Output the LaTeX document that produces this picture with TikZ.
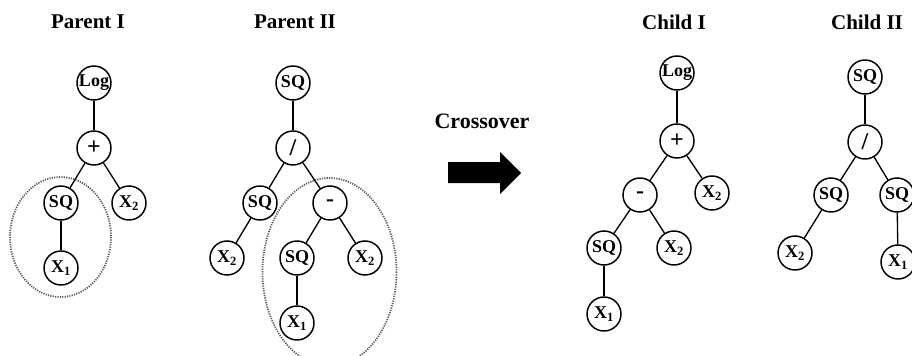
\documentclass[tikz,border=0pt]{standalone}
\usepackage{fontspec}
\setmainfont{Liberation Serif}
\begin{document}
\begin{tikzpicture}[x=0.75pt,y=-0.75pt,line width=1pt]
\tikzset{op/.style = {circle,draw,line width=1.1pt,minimum size=25.5pt,inner sep=0pt,font=\fontsize{13.5}{15}\selectfont\bfseries},
sym/.style = {op,font=\fontsize{18}{18}\selectfont\bfseries},
ttl/.style = {font=\fontsize{15.75}{18}\selectfont\bfseries},
cut/.style = {draw=black!65,line width=1.3pt,dash pattern=on 0.9pt off 0.9pt}}
\useasboundingbox (0,0) rectangle (912,356);
% Parent I
\node[ttl] (t1) at (88,22) {Parent I};
\node[op](a1) at (94,83) {Log}; \node[sym](a2) at (94,148) {+};
\node[op](a3) at (61,203) {SQ}; \node[op](a4) at (129,203) {X\textsubscript{2}};
\node[op](a5) at (61,268) {X\textsubscript{1}};
\draw (a1) -- (a2); \draw (a2) -- (a3); \draw (a2) -- (a4); \draw (a3) -- (a5);
\draw[cut] (60.5,237) ellipse [x radius=50.5, y radius=60];
% Parent II
\node[ttl] (t2) at (295,22) {Parent II};
\node[op](b1) at (293,83) {SQ}; \node[sym](b2) at (293,148) {/};
\node[op](b3) at (260,203) {SQ}; \node[sym](b4) at (330,203) {-};
\node[op](b5) at (227,258) {X\textsubscript{2}}; \node[op](b6) at (297,258) {SQ};
\node[op](b7) at (365,258) {X\textsubscript{2}}; \node[op](b8) at (297,323) {X\textsubscript{1}};
\draw (b1) -- (b2); \draw (b2) -- (b3); \draw (b2) -- (b4); \draw (b3) -- (b5);
\draw (b4) -- (b6); \draw (b4) -- (b7); \draw (b6) -- (b8);
\draw[cut] (329.5,272) ellipse [x radius=67, y radius=94];
% crossover
\node[ttl,font=\fontsize{16.5}{18}\selectfont\bfseries] (t3) at (482,121) {Crossover};
\fill (448,162) -- (500,162) -- (500,152) -- (521,173) -- (500,194) -- (500,183) -- (448,183) -- cycle;
% Child I
\node[ttl] (t4) at (674,22) {Child I};
\node[op](c1) at (677,73) {Log}; \node[sym](c2) at (677,141) {+};
\node[sym](c3) at (640,195) {-}; \node[op](c4) at (712,193) {X\textsubscript{2}};
\node[op](c5) at (604,248) {SQ}; \node[op](c6) at (674,248) {X\textsubscript{2}};
\node[op](c7) at (604,314) {X\textsubscript{1}};
\draw (c1) -- (c2); \draw (c2) -- (c3); \draw (c2) -- (c4); \draw (c3) -- (c5);
\draw (c3) -- (c6); \draw (c5) -- (c7);
% Child II
\node[ttl] (t5) at (867,22) {Child II};
\node[op](d1) at (865,77) {SQ}; \node[sym](d2) at (865,142) {/};
\node[op](d3) at (831,195) {SQ}; \node[op](d4) at (897,195) {SQ};
\node[op](d5) at (795,253) {X\textsubscript{2}}; \node[op](d6) at (898,262) {X\textsubscript{1}};
\draw (d1) -- (d2); \draw (d2) -- (d3); \draw (d2) -- (d4); \draw (d3) -- (d5);
\draw (d4) -- (d6);
\end{tikzpicture}
\end{document}
